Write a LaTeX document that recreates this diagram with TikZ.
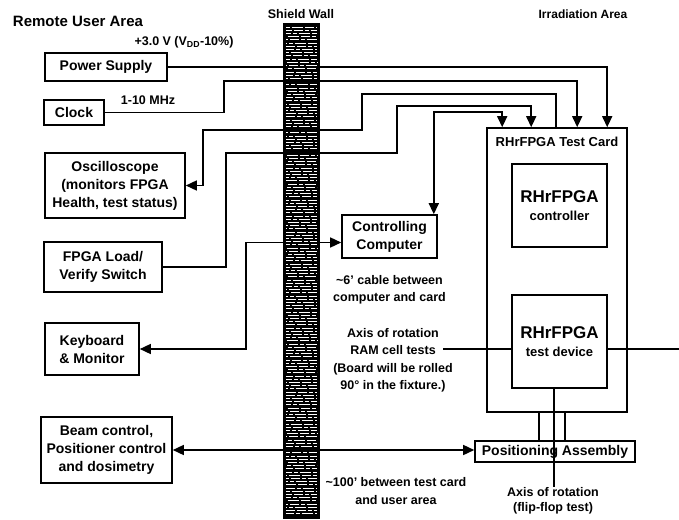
\documentclass[tikz,border=0pt]{standalone}
\usepackage{fontspec}
\setmainfont{Liberation Sans}
\usetikzlibrary{positioning, arrows.meta}

\begin{document}
\begin{tikzpicture}[
    x=1pt, y=-1pt,
    font=\fontsize{14}{18}\selectfont\bfseries,
    box/.style={draw, line width=1.6pt, fill=white, inner sep=0pt, align=center},
    lbl/.style={font=\fontsize{12.5}{17.5}\selectfont\bfseries, align=center, inner sep=0pt},
    area/.style={font=\fontsize{#1}{#1}\selectfont\bfseries, inner sep=0pt},
    area/.default=12.5,
    wire/.style={line width=1.5pt},
    arr/.style={wire, -{Triangle[length=11pt,width=10pt]}},
    arrs/.style={wire, {Triangle[length=11pt,width=10pt]}-{Triangle[length=11pt,width=10pt]}},
  ]
  \useasboundingbox (0,0) rectangle (679,519);

  % Shield wall
  \fill (283,23) rectangle (320,519);
  \foreach \y [count=\i] in {27,30.2,...,516} {
    \pgfmathsetmacro{\ph}{mod(\i*11,29)}
    \draw[white, line width=0.6pt, dash pattern=on 9pt off 2pt on 4pt off 1.5pt on 11pt off 2.5pt, dash phase=\ph pt] (286,\y) -- (317,\y);
  }

  % Area titles
  \node[area=15] (remote) at (78,21) {Remote User Area};
  \node[area] (shield) at (301,14) {Shield Wall};
  \node[area=12] (irrad) at (583,14) {Irradiation Area};

  % Remote user side
  \node[box, minimum width=122, minimum height=28] (psu) at (106,67) {Power Supply};
  \node[lbl] (vdd) at (184,42) {+3.0 V (V\textsubscript{DD}-10\%)};
  \node[box, minimum width=60, minimum height=25] (clock) at (74,112.5) {Clock};
  \node[lbl] (freq) at (148,100) {1-10 MHz};
  \node[box, minimum width=140, minimum height=65] (osc) at (115,185.5) {Oscilloscope\\(monitors FPGA\\Health, test status)};
  \node[box, minimum width=118, minimum height=50] (load) at (103,267) {FPGA Load/\\Verify Switch};
  \node[box, minimum width=94, minimum height=52] (kbd) at (92,349) {Keyboard\\\& Monitor};
  \node[box, minimum width=131, minimum height=66] (beam) at (106.5,450) {Beam control,\\Positioner control\\and dosimetry};

  % Computer
  \node[box, minimum width=95, minimum height=43] (comp) at (389.5,236.5) {Controlling\\Computer};
  \node[lbl, below=16pt of comp] (cable) {\textasciitilde6' cable between\\computer and card};

  % Irradiation side
  \node[box, minimum width=140, minimum height=284] (card) at (557,270) {};
  \node[lbl, font=\fontsize{13}{15}\selectfont\bfseries] (cardlbl) at (557,142) {RHrFPGA Test Card};

  % Axis of rotation (RAM cell tests)
  \coordinate (axl) at (443,349);
  \coordinate (axr) at (679,349);
  \draw[line width=1.2pt] (axl) -- (axr);
  \node[lbl] (ramaxis) at (393,360.5) {Axis of rotation\\RAM cell tests\\(Board will be rolled\\90° in the fixture.)};

  \node[box, minimum width=95, minimum height=83] (ctrl) at (559.5,205.5)
    {\fontsize{17}{19}\selectfont RHrFPGA\\\fontsize{13}{17}\selectfont controller};
  \node[box, minimum width=95, minimum height=93] (dev) at (559.5,341.5)
    {\fontsize{17}{19}\selectfont RHrFPGA\\\fontsize{13}{17}\selectfont test device};
  \node[box, minimum width=160, minimum height=21] (pos) at (555,451.5) {Positioning Assembly};

  \node[lbl] (dist) at (396,491) {\textasciitilde100' between test card\\and user area};
  \node[lbl, font=\fontsize{12.5}{15}\selectfont\bfseries] (flip) at (553,500.5) {Axis of rotation\\(flip-flop test)};

  % Supports and flip-flop axis
  \foreach \dx in {53,79} {
    \path ([xshift=\dx pt]card.south west) coordinate (s\dx);
    \draw[wire] (s\dx) -- (s\dx |- pos.north);
  }
  \coordinate (ax) at ([xshift=-5.5pt]dev.south);
  \draw[line width=1.2pt] (ax) -- (ax |- flip.north);

  % Cables through the wall
  \draw[arr] (psu.east) -| ([xshift=121pt]card.north west);
  \draw[arr] (clock.east) -- ++(119,0) |- ([xshift=91pt,yshift=46pt]card.north west) -- ([xshift=91pt]card.north west);
  \draw[arr] ([xshift=70pt]card.north west) -- ++(0,-33) -| (362,130) -| (203,185.5) -- (osc.east);
  \draw[arr] (load.east) -- ++(63,0) |- (397,153) |- ([xshift=45pt,yshift=21pt]card.north west) -- ([xshift=45pt]card.north west);
  \draw[arrs] ([xshift=-4pt]comp.north east) -- ++(0,-102) -| ([xshift=16pt]card.north west);
  \draw[arrs] (kbd.east) -- ++(106,0) |- ([yshift=-6pt]comp.west);
  \draw[arrs] (beam.east) -- (beam.east -| pos.west);
\end{tikzpicture}
\end{document}
